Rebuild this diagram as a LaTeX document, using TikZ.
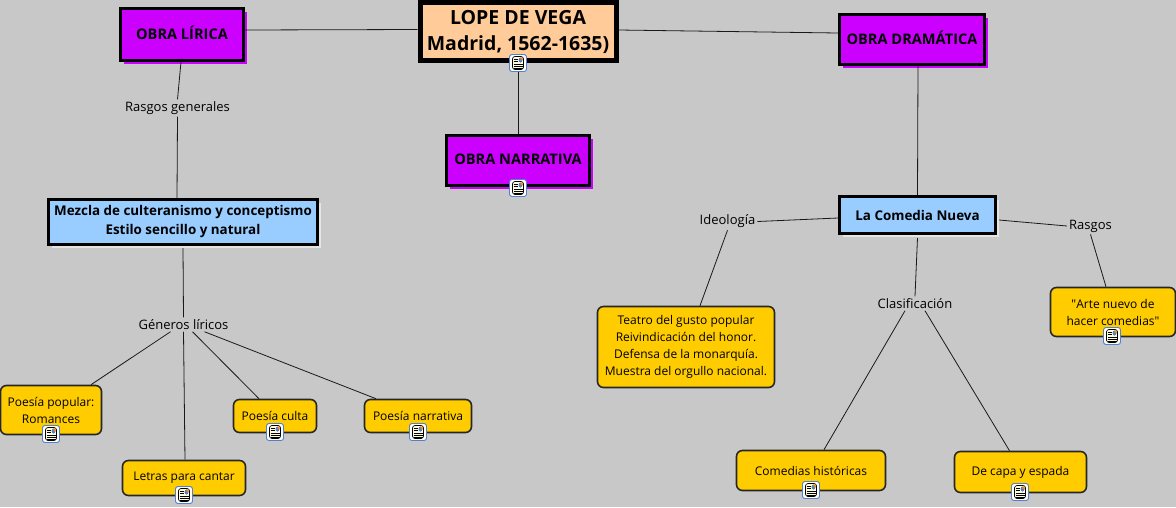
\documentclass[tikz,border=0pt]{standalone}
\usepackage{fontspec}
\setmainfont{Open Sans}
\newfontfamily\plainquote{Open Sans}
\usetikzlibrary{shadows}
\definecolor{bgray}{HTML}{C8C8C8}
\definecolor{purplebox}{HTML}{CC00FF}
\definecolor{orangebox}{HTML}{FFCC00}
\definecolor{bluebox}{HTML}{99CCFF}
\definecolor{peachbox}{HTML}{FFCC99}
\definecolor{iconblue}{HTML}{4F81D0}
\definecolor{iconcream}{HTML}{FFFFE0}
\tikzset{
  % boxes are given by their outer size in pixels
  obra/.style={draw=black, line width=3pt, fill=purplebox, align=center, font=\fontsize{14.6}{17}\selectfont\bfseries,
    inner sep=0pt, text depth=3pt, drop shadow={shadow xshift=3pt, shadow yshift=-3pt, fill=purplebox, opacity=1}},
  tema/.style={draw=black, line width=3pt, fill=bluebox, align=center, font=\fontsize{13.4}{19}\selectfont\bfseries,
    inner sep=0pt, drop shadow={shadow xshift=3pt, shadow yshift=-3pt, fill=black!10!white, opacity=1}},
  hoja/.style={draw=black!85, line width=1.6pt, fill=orangebox, rounded corners=6pt, align=center,
    font=\fontsize{12}{17}\selectfont, inner sep=0pt},
  enlace/.style={font=\fontsize{13}{15}\selectfont, inner sep=2pt},
  linea/.style={line width=0.8pt, black!90},
  docicon/.style={draw=iconblue, line width=0.9pt, fill=white, rounded corners=2.5pt, minimum width=17pt, minimum height=17pt, inner sep=0pt,
    path picture={
      \draw[black, fill=iconcream, line width=0.7pt] ([shift={(-5.5pt,-6.5pt)}]path picture bounding box.center) rectangle ++(11pt,13pt);
      \fill[iconblue] ([shift={(0.5pt,0.5pt)}]path picture bounding box.center) rectangle ++(4pt,5pt);
      \fill[orange] ([shift={(2.5pt,3pt)}]path picture bounding box.center) rectangle ++(2pt,2.5pt);
      \foreach \dy in {-5,-3,-1} \draw[black, line width=0.7pt] ([shift={(-4.5pt,\dy pt)}]path picture bounding box.center) -- ++(9pt,0);
      \foreach \dy in {1.5,3.5} \draw[black, line width=0.7pt] ([shift={(-4.5pt,\dy pt)}]path picture bounding box.center) -- ++(4pt,0);
    }},
}
\begin{document}
\begin{tikzpicture}[x=1pt, y=-1pt]
  \useasboundingbox[fill=bgray] (0,0) rectangle (1176,507);

  % Main box
  \node[draw=black, line width=5pt, fill=peachbox, align=center, font=\fontsize{19.5}{26}\selectfont\bfseries, inner sep=0pt,
    minimum width=196pt, minimum height=58pt,
    drop shadow={shadow xshift=2pt, shadow yshift=-2pt, fill=purple, opacity=1}] (lope) at (518,31.5) {LOPE DE VEGA\\Madrid, 1562-1635)};

  % Works
  \node[obra, minimum width=123pt, minimum height=52pt] (lirica) at (182,34.5) {OBRA LÍRICA};
  \node[obra, minimum width=145pt, minimum height=50pt] (dramatica) at (912,39.5) {OBRA DRAMÁTICA};
  \node[obra, minimum width=143pt, minimum height=50pt] (narrativa) at (518,160.5) {OBRA NARRATIVA};

  % Blue boxes
  \node[tema, minimum width=269pt, minimum height=45pt] (mezcla) at (183,222) {Mezcla de culteranismo y conceptismo\\Estilo sencillo y natural};
  \node[tema, minimum width=156pt, minimum height=37pt] (comedia) at (917.5,215) {La Comedia Nueva};

  % Link labels
  \node[enlace] (rasgosgen) at (177.5,108) {Rasgos generales};
  \node[enlace] (generos) at (183.5,324.5) {Géneros líricos};
  \node[enlace] (ideologia) at (727.5,221.5) {Ideología};
  \node[enlace] (clasif) at (915,303.5) {Clasificación};
  \node[enlace] (rasgos) at (1090.5,226) {Rasgos};

  % Orange boxes
  \node[hoja, minimum width=101pt, minimum height=49pt] (popular) at (51,410) {Poesía popular:\\Romances};
  \node[hoja, minimum width=123pt, minimum height=35pt] (letras) at (184,478) {Letras para cantar};
  \node[hoja, minimum width=83pt, minimum height=33pt] (culta) at (275,416) {Poesía culta};
  \node[hoja, minimum width=107pt, minimum height=33pt] (narr) at (418,416) {Poesía narrativa};
  \node[hoja, minimum width=177pt, minimum height=81pt] (teatro) at (686,347) {Teatro del gusto popular\\Reivindicación del honor.\\Defensa de la monarquía.\\Muestra del orgullo nacional.};
  \node[hoja, minimum width=149pt, minimum height=40pt] (historicas) at (811,470.5) {Comedias históricas};
  \node[hoja, minimum width=132pt, minimum height=41pt] (capa) at (1020.5,472) {De capa y espada};
  \node[hoja, minimum width=125pt, minimum height=49pt] (arte) at (1113,312) {{\plainquote"}Arte nuevo de\\hacer comedias{\plainquote"}};

  % Connectors
  \draw[linea] ([yshift=4.5pt]lirica.east) -- ([yshift=2pt]lope.west);
  \draw[linea] ([yshift=1.5pt]lope.east) -- ([yshift=6.5pt]dramatica.west);
  \draw[linea] (lope.south) -- (narrativa.north);
  \draw[linea] ([xshift=-1pt]lirica.south) -- (rasgosgen.north);
  \draw[linea] (rasgosgen.south) -- ([xshift=-6pt]mezcla.north);
  \draw[linea] ([yshift=-2pt]mezcla.south) -- (generos.north);
  \draw[linea] ([xshift=-13pt]generos.south) -- ([xshift=40pt]popular.north);
  \draw[linea] (generos.south) -- ([xshift=1pt]letras.north);
  \draw[linea] ([xshift=9pt]generos.south) -- ([xshift=-16pt]culta.north);
  \draw[linea] ([xshift=21pt]generos.south) -- ([xshift=-42pt]narr.north);
  \draw[linea] ([xshift=6pt]dramatica.south) -- (comedia.north);
  \draw[linea] ([yshift=-3pt]comedia.west) -- (ideologia.east);
  \draw[linea] (ideologia.south) -- ([xshift=14pt]teatro.north);
  \draw[linea] ([yshift=-3pt]comedia.south) -- (clasif.north);
  \draw[linea] ([xshift=-10pt]clasif.south) -- ([xshift=13pt]historicas.north);
  \draw[linea] ([xshift=10pt]clasif.south) -- ([xshift=-11pt]capa.north);
  \draw[linea] ([shift={(2pt,-5pt)}]comedia.east) -- (rasgos.west);
  \draw[linea] (rasgos.south) -- ([xshift=-7pt]arte.north);

  % Note icons
  \node[docicon] (iconlope) at (518,63) {};
  \node[docicon] (iconnarr) at (518,188) {};
  \node[docicon] (iconpopular) at (51,434) {};
  \node[docicon] (iconletras) at (184,495) {};
  \node[docicon] (iconculta) at (275,432) {};
  \node[docicon] (iconpoesnarr) at (418,432) {};
  \node[docicon] (iconhist) at (811,490) {};
  \node[docicon] (iconcapa) at (1020,492) {};
  \node[docicon] (iconarte) at (1112,336) {};
\end{tikzpicture}
\end{document}
